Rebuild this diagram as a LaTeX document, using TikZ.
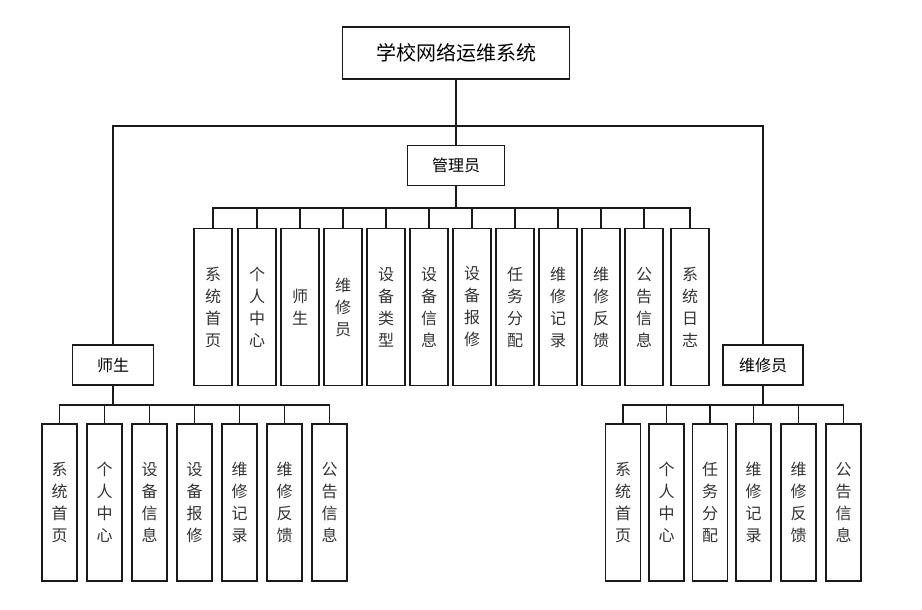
\documentclass[tikz,border=0pt]{standalone}
\usepackage{fontspec}
\newfontfamily\cjk{Noto Sans CJK SC}
\usetikzlibrary{positioning,calc}
\usepackage{xcolor}
\definecolor{dark}{HTML}{1A1A1A}
\definecolor{txtgray}{HTML}{333333}
\tikzset{
  box/.style={draw=dark, line width=1.3pt, fill=white, align=center, inner sep=0pt, font=\cjk},
  rootbox/.style={box, minimum width=227, minimum height=52, font=\cjk\fontsize{20}{24}\selectfont},
  rolebox/.style={box, minimum height=40, font=\cjk\fontsize{16}{20}\selectfont},
  leafbox/.style={box, minimum height=157, text=txtgray, font=\cjk\fontsize{16}{22}\selectfont},
  link/.style={draw=dark, line width=1.3pt, line cap=rect}
}
\begin{document}
\begin{tikzpicture}[x=1pt, y=-1pt]
  \useasboundingbox (0,0) rectangle (922,610);
  \node[rootbox] (root) at (456,53) {学校网络运维系统};
  \node[rolebox, minimum width=97] (admin) at (456,165.5) {管理员};
  \node[rolebox, minimum width=81] (teacher) at (113,365) {师生};
  \node[rolebox, minimum width=80] (worker) at (763,365) {维修员};
  \coordinate (topbus) at (456,126);
  \coordinate (abus) at (456,208);
  \coordinate (tbus) at (113,405);
  \coordinate (wbus) at (763,405);
  \draw[link] (root) -- (admin);
  \draw[link] (teacher.north) -- (teacher.north |- topbus) -- (worker.north |- topbus) -- (worker.north);
  \foreach \x/\lbl [count=\i] in {213/{系\\统\\首\\页}, 257/{个\\人\\中\\心}, 300/{师\\生}, 343/{维\\修\\员}, 386/{设\\备\\类\\型}, 429/{设\\备\\信\\息}, 472/{设\\备\\报\\修}, 515/{任\\务\\分\\配}, 558/{维\\修\\记\\录}, 601/{维\\修\\反\\馈}, 644/{公\\告\\信\\息}, 690/{系\\统\\日\\志}}
    \node[leafbox, minimum width=38] (a\i) at (\x,307) {\lbl};
  \foreach \x/\lbl [count=\i] in {59.5/{系\\统\\首\\页}, 104.5/{个\\人\\中\\心}, 149.5/{设\\备\\信\\息}, 194.5/{设\\备\\报\\修}, 239.5/{维\\修\\记\\录}, 284.5/{维\\修\\反\\馈}, 329.5/{公\\告\\信\\息}}
    \node[leafbox, minimum width=35] (t\i) at (\x,502.5) {\lbl};
  \foreach \x/\lbl [count=\i] in {623/{系\\统\\首\\页}, 666.5/{个\\人\\中\\心}, 710/{任\\务\\分\\配}, 753.5/{维\\修\\记\\录}, 798.5/{维\\修\\反\\馈}, 843.5/{公\\告\\信\\息}}
    \node[leafbox, minimum width=35] (w\i) at (\x,502.5) {\lbl};
  \draw[link] (admin.south) -- (abus);
  \draw[link] (a1.north |- abus) -- (a12.north |- abus);
  \foreach \i in {1,...,12}
    \draw[link] (a\i.north) -- (a\i.north |- abus);
  \draw[link] (teacher.south) -- (tbus);
  \draw[link] (t1.north |- tbus) -- (t7.north |- tbus);
  \foreach \i in {1,...,7}
    \draw[link] (t\i.north) -- (t\i.north |- tbus);
  \draw[link] (worker.south) -- (wbus);
  \draw[link] (w1.north |- wbus) -- (w6.north |- wbus);
  \foreach \i in {1,...,6}
    \draw[link] (w\i.north) -- (w\i.north |- wbus);
\end{tikzpicture}
\end{document}
